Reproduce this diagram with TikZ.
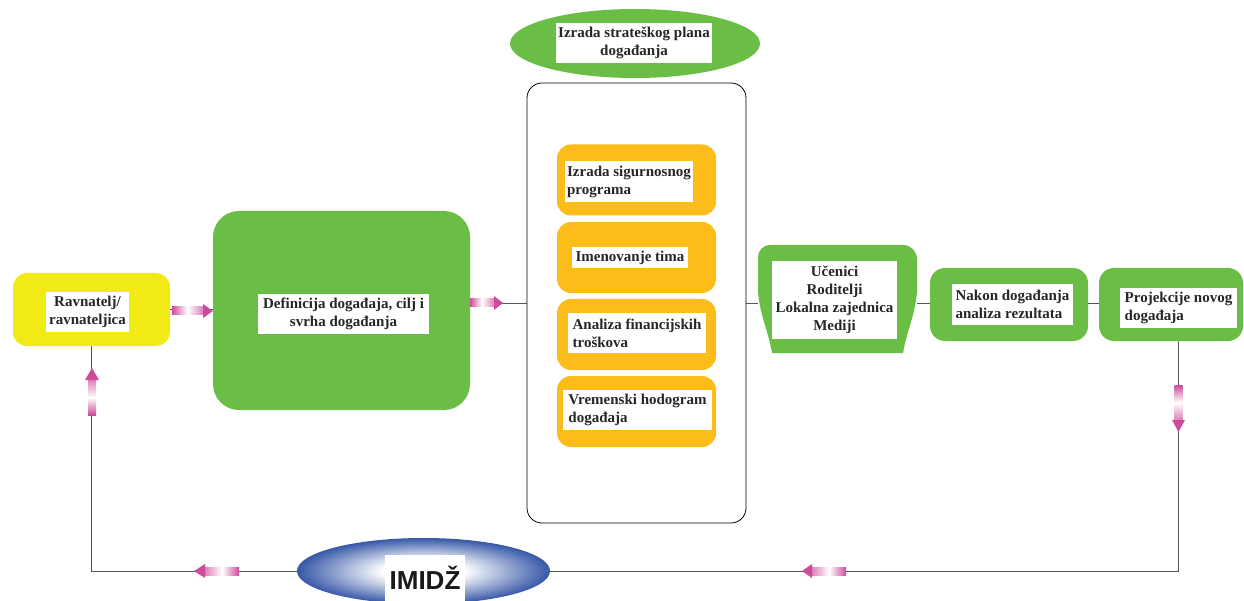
\documentclass[tikz,border=0pt]{standalone}
\usepackage{fontspec}
\setmainfont{Liberation Serif}
\newfontfamily\imidzfont{Liberation Sans}
\usetikzlibrary{shapes.geometric}
\definecolor{ygreen}{RGB}{107,190,69}
\definecolor{yyellow}{RGB}{242,234,22}
\definecolor{yorange}{RGB}{252,188,25}
\definecolor{pk}{RGB}{205,75,155}
\definecolor{imblue}{RGB}{55,88,168}
\definecolor{lncol}{RGB}{85,85,85}
\pgfdeclareradialshading{imidzshade}{\pgfpoint{0bp}{0bp}}{color(0bp)=(white); color(8bp)=(white); color(25bp)=(imblue); color(50bp)=(imblue)}
\pgfdeclarelayer{bg}
\pgfsetlayers{bg,main}
\begin{document}
\begin{tikzpicture}[x=1pt,y=-1pt,
  txt/.style={fill=white, inner sep=2pt, font=\fontsize{15}{18}\selectfont\bfseries, text=black!85},
  greenbox/.style={fill=ygreen, rounded corners=#1, inner sep=0pt},
  orangebox/.style={fill=yorange, rounded corners=14pt, inner sep=0pt, minimum width=159pt, minimum height=71pt},
  conn/.style={draw=lncol, line width=0.9pt}]
\useasboundingbox (0,0) rectangle (1244,601);

% main boxes
\node[fill=yyellow, rounded corners=14pt, minimum width=157pt, minimum height=73pt] (rav) at (91.5,309.5) {};
\node[txt, minimum width=83pt, minimum height=40pt, align=center] (ravt) at (87.5,312) {Ravnatelj/\\ravnateljica};

\node[greenbox=26pt, minimum width=257pt, minimum height=199pt] (def) at (341.5,310.5) {};
\node[txt, minimum width=171pt, minimum height=40pt, align=center] (deft) at (343.5,314) {Definicija događaja, cilj i\\svrha događanja};

\node[draw=black, line width=0.8pt, rounded corners=15pt, minimum width=219pt, minimum height=440pt] (big) at (636.5,303) {};

\node[ellipse, fill=ygreen, minimum width=250pt, minimum height=69pt] (strat) at (635,43.5) {};
\node[txt, minimum width=152pt, minimum height=40pt, align=center] (stratt) at (634,43) {Izrada strateškog plana\\događanja};

\node[orangebox] (o1) at (636.5,180) {};
\node[txt, minimum width=124pt, minimum height=41pt, align=left] (o1t) at (629,181.5) {Izrada sigurnosnog\\programa};
\node[orangebox] (o2) at (636.5,257.5) {};
\node[txt, minimum width=116pt, minimum height=21pt, align=left] (o2t) at (630,257.5) {Imenovanje tima};
\node[orangebox] (o3) at (636.5,334.5) {};
\node[txt, minimum width=138pt, minimum height=40pt, align=left] (o3t) at (637,333) {Analiza financijskih\\troškova};
\node[orangebox] (o4) at (636.5,411.5) {};
\node[txt, minimum width=149pt, minimum height=40pt, align=left] (o4t) at (637.5,410) {Vremenski hodogram\\događaja};

% Ucenici shape
\fill[ygreen] (758,292) -- (758,259) [rounded corners=14pt]-- (758,245) -- (917,245) [sharp corners]-- (917,259) -- (917,292) to[out=-95,in=80] (903,353) -- (772,353) to[out=100,in=-85] cycle;
\fill[ygreen] (758,259) -- (758,257) arc[start angle=180, end angle=90, radius=12pt] -- (770,259) -- cycle;
\node[minimum width=159pt, minimum height=108pt, inner sep=0pt] (ucen) at (837.5,299) {};
\node[txt, minimum width=125pt, minimum height=78pt, align=center] (ucent) at (834.5,300) {Učenici\\Roditelji\\Lokalna zajednica\\Mediji};

\node[greenbox=15pt, minimum width=158pt, minimum height=73pt] (nakon) at (1009,304.5) {};
\node[txt, minimum width=121pt, minimum height=41pt, align=left] (nakont) at (1012.5,304.5) {Nakon događanja\\analiza rezultata};

\node[greenbox=15pt, minimum width=144pt, minimum height=73pt] (proj) at (1171,304.5) {};
\node[txt, minimum width=117pt, minimum height=40pt, align=left] (projt) at (1178.5,308) {Projekcije novog\\događaja};

\node[ellipse, shading=imidzshade, minimum width=253pt, minimum height=66pt, inner sep=0pt] (imidz) at (423.5,571) {};
\node[fill=white, minimum width=80pt, minimum height=46pt, inner sep=0pt, font=\imidzfont\fontsize{26}{26}\selectfont\bfseries, text=black!90] (imidzt) at (425,578) {IMIDŽ};

% connectors (behind)
\begin{pgfonlayer}{bg}
\draw[conn] (rav.east) -- (rav.east -| def.west);
\draw[conn] (def.east |- big.west) -- (big.west);
\draw[conn] (big.east) -- (big.east -| ucen.west);
\draw[conn] (big.east -| ucen.east) -- (big.east -| nakon.west);
\draw[conn] (big.east -| nakon.east) -- (big.east -| proj.west);
\draw[conn] (projt.south) |- (imidz.east);
\draw[conn] (imidz.west) -| (rav.south);
\end{pgfonlayer}

% pink block arrows
% right, yellow -> green
\shade[left color=pk, right color=pk!70, middle color=white] (172,307) rectangle (203,315);
\fill[pk] (203,304) -- (213,311) -- (203,318) -- cycle;
% right, green -> big box
\shade[left color=pk, right color=pk!70, middle color=white] (470,299) rectangle (494,307);
\fill[pk] (494,296) -- (503,303) -- (494,310) -- cycle;
% up, left vertical
\shade[top color=pk!70, bottom color=pk, middle color=white] (88,380) rectangle (96,415);
\fill[pk] (85,380) -- (92,368) -- (99,380) -- cycle;
% down, right vertical
\shade[top color=pk, bottom color=pk!70, middle color=white] (1174.5,385) rectangle (1182.5,420);
\fill[pk] (1172,420) -- (1178.5,432) -- (1185,420) -- cycle;
% left, bottom right
\shade[left color=pk!70, right color=pk, middle color=white] (812,567) rectangle (846,575);
\fill[pk] (812,564) -- (802,571) -- (812,578) -- cycle;
% left, bottom left
\shade[left color=pk!70, right color=pk, middle color=white] (205,567) rectangle (239,575);
\fill[pk] (205,564) -- (194,571) -- (205,578) -- cycle;
\end{tikzpicture}
\end{document}
